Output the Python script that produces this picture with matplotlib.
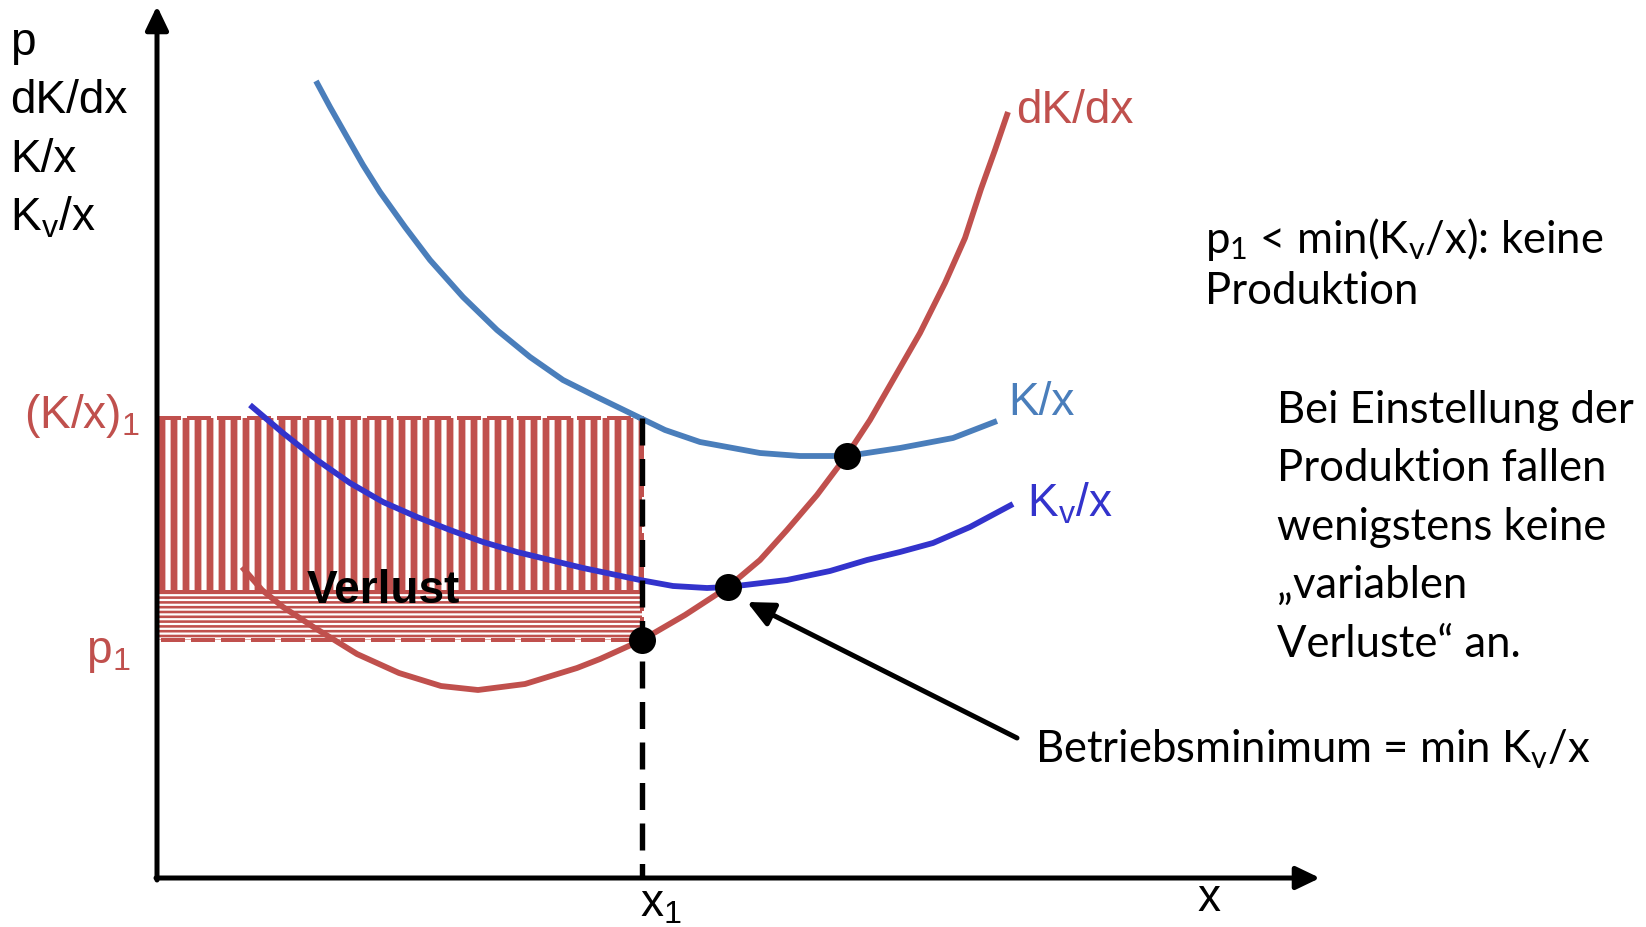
import matplotlib
matplotlib.use("Agg")
import matplotlib.pyplot as plt
from matplotlib.patches import Rectangle
import numpy as np

# ---------------- data (pixel-like units) ----------------
# K/x (average total cost)
kx_x = [316, 330, 347, 363, 380, 405, 430, 463, 497, 530, 563, 597, 630, 665, 700, 760, 800, 847, 900, 953, 997]
kx_y = [81, 107, 137, 165, 192, 227, 260, 297, 330, 357, 380, 397, 413, 430, 442, 453, 456, 456, 448, 438, 421]
# Kv/x (average variable cost)
kvx_x = [250, 283, 317, 350, 383, 417, 450, 483, 517, 550, 583, 640, 673, 707, 728, 787, 830, 867, 900, 933, 970, 1013]
kvx_y = [405, 433, 460, 483, 502, 517, 530, 542, 552, 560, 568, 580, 586, 588, 587, 580, 571, 560, 552, 543, 527, 504]
# dK/dx (marginal cost)
dk_x = [242, 262, 283, 315, 357, 399, 441, 478, 525, 577, 600, 642, 685, 728, 760, 787, 817, 847, 870, 893, 920, 945, 965, 981, 995, 1008]
dk_y = [567, 590, 607, 628, 654, 673, 686, 690, 684, 668, 659, 640, 615, 587, 560, 530, 495, 455, 420, 380, 333, 283, 238, 189, 150, 112]

# highlighted points
pts_x = [642, 728, 847]
pts_y = [640, 587, 456]

# key levels
origin_x, origin_y = 157, 878
x_end, y_end = 1320, 6
x1_pos = 642
kx1_level = 418
split_level = 592
p1_level = 640

# colors
RED = "#C0504D"
LBLUE = "#4A7EBB"
BLUE = "#3333CC"

DPI = 144
fig = plt.figure(figsize=(1646 / DPI, 927 / DPI), dpi=DPI)
ax = fig.add_axes([0, 0, 1, 1])
ax.set_xlim(0, 1646)
ax.set_ylim(927, 0)
ax.axis("off")

ARIAL = "Liberation Sans"
CAL = "Lato"

# ---------------- hatched loss area ----------------
with plt.rc_context({"hatch.linewidth": 3.4}):
    r1 = Rectangle((origin_x, kx1_level), x1_pos - origin_x, split_level - kx1_level,
                   facecolor="none", edgecolor=RED, hatch="||", linewidth=2.0,
                   linestyle=(0, (6, 1.5)), zorder=1)
    try:
        r1.set_hatch_linewidth(3.4)
    except Exception:
        pass
    ax.add_patch(r1)
with plt.rc_context({"hatch.linewidth": 1.3}):
    r2 = Rectangle((origin_x, split_level), x1_pos - origin_x, p1_level - split_level,
                   facecolor="none", edgecolor=RED, hatch="-----", linewidth=2.0,
                   linestyle=(0, (6, 1.5)), zorder=1)
    try:
        r2.set_hatch_linewidth(1.3)
    except Exception:
        pass
    ax.add_patch(r2)

# ---------------- axes arrows ----------------
AST = "-|>,head_length=0.5,head_width=0.24"
ax.annotate("", xy=(origin_x, y_end), xytext=(origin_x, origin_y + 2),
            arrowprops=dict(arrowstyle=AST, color="black", lw=2.5,
                            mutation_scale=20, shrinkA=0, shrinkB=0), zorder=5)
ax.annotate("", xy=(x_end, origin_y), xytext=(origin_x - 1, origin_y),
            arrowprops=dict(arrowstyle=AST, color="black", lw=2.5,
                            mutation_scale=20, shrinkA=0, shrinkB=0), zorder=5)

# ---------------- curves ----------------
kw = dict(lw=2.9, solid_capstyle="butt", solid_joinstyle="round", zorder=3)
ax.plot(kx_x, kx_y, color=LBLUE, **kw)
ax.plot(kvx_x, kvx_y, color=BLUE, **kw)
ax.plot(dk_x, dk_y, color=RED, **kw)

# dashed x1 line
ax.plot([x1_pos, x1_pos], [kx1_level, origin_y], color="black", lw=2.7,
        dashes=(5, 2.5), zorder=4)

# points
ax.plot(pts_x, pts_y, "o", color="black", markersize=12.5, zorder=6)

# annotation arrow
ax.annotate("", xy=(747, 602), xytext=(1017, 738),
            arrowprops=dict(arrowstyle="-|>,head_length=0.55,head_width=0.26",
                            color="black", lw=2.5, mutation_scale=20,
                            shrinkA=0, shrinkB=0), zorder=5)

# ---------------- texts ----------------
SUB = lambda s: r"$\mathregular{_{%s}}$" % s
fsA = 23
left_labels = ["p", "dK/dx", "K/x", "K" + SUB("v") + "/x"]
left_base = [55, 113, 172, 230]
for lab, yb in zip(left_labels, left_base):
    ax.text(10, yb, lab, fontsize=fsA, family=ARIAL, va="baseline", ha="left")

ax.text(140, 428, "(K/x)" + SUB("1"), fontsize=fsA, family=ARIAL, color=RED,
        va="baseline", ha="right")
ax.text(130, 663, "p" + SUB("1"), fontsize=fsA, family=ARIAL, color=RED,
        va="baseline", ha="right")

ax.text(307, 603, "Verlust", fontsize=fsA, family=ARIAL, weight="bold",
        va="baseline", ha="left", zorder=7)

ax.text(1016, 123, "dK/dx", fontsize=fsA, family=ARIAL, color=RED, va="baseline")
ax.text(1008, 415, "K/x", fontsize=fsA, family=ARIAL, color=LBLUE, va="baseline")
ax.text(1027, 517, "K" + SUB("v") + "/x", fontsize=fsA, family=ARIAL, color=BLUE, va="baseline")

ax.text(1209, 911, "x", fontsize=fsA, family=ARIAL, va="baseline", ha="center")
ax.text(640, 916, "x" + SUB("1"), fontsize=fsA, family=ARIAL, va="baseline", ha="left")

fsC = 21.8
ax.text(1205, 253, "p" + SUB("1") + " < min(K" + SUB("v") + "/x): keine",
        fontsize=fsC, family=CAL, va="baseline")
ax.text(1205, 304, "Produktion", fontsize=fsC, family=CAL, va="baseline")

block = ["Bei Einstellung der", "Produktion fallen", "wenigstens keine",
         "\u201evariablen", "Verluste\u201c an."]
block_base = [423, 481, 540, 598, 657]
for line, yb in zip(block, block_base):
    ax.text(1277, yb, line, fontsize=fsC, family=CAL, va="baseline")

ax.text(1035, 762, "Betriebsminimum = min K" + SUB("v") + "/x", fontsize=fsC,
        family=CAL, va="baseline")

fig.savefig("out.png", dpi=DPI)
